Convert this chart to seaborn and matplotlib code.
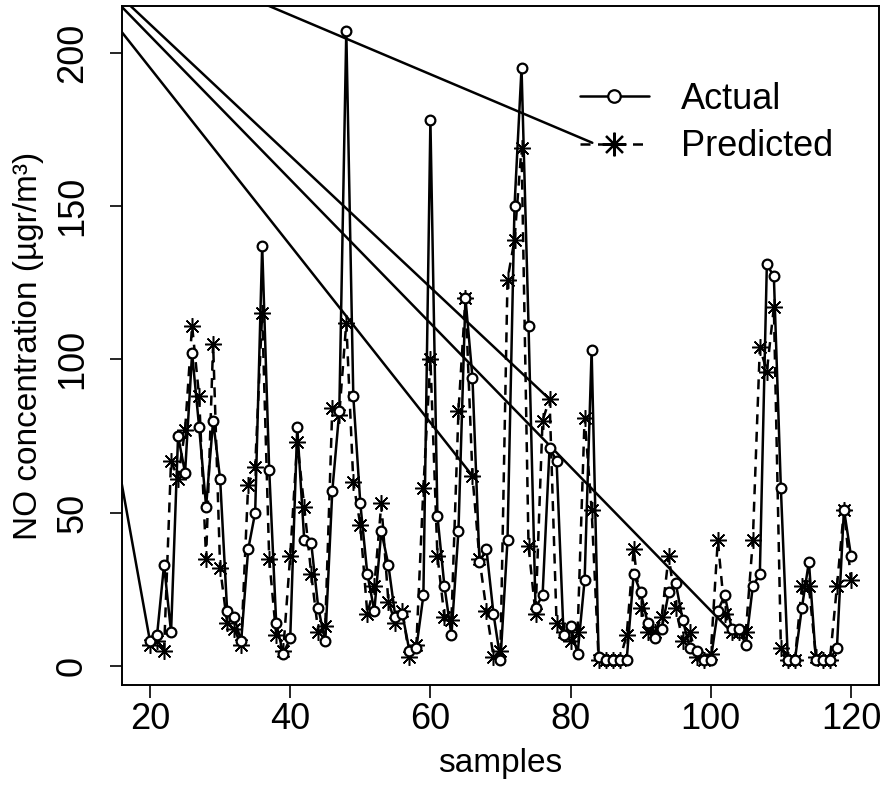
import matplotlib
matplotlib.use("Agg")
import matplotlib.pyplot as plt
from matplotlib.lines import Line2D
import pandas as pd
import seaborn as sns

# sample numbers shown on the x axis
samples = list(range(20, 121))

# measured NO (circles, solid line), samples 20..120
actual = [8, 10, 33, 11, 75, 63, 102, 78, 52, 80,
          61, 18, 16, 8, 38, 50, 137, 64, 14, 4,
          9, 78, 41, 40, 19, 8, 57, 83, 207, 88,
          53, 30, 18, 44, 33, 16, 17, 5, 6, 23,
          178, 49, 26, 10, 44, 120, 94, 34, 38, 17,
          2, 41, 150, 195, 111, 19, 23, 71, 67, 10,
          13, 4, 28, 103, 3, 2, 2, 2, 2, 30,
          24, 14, 9, 12, 24, 27, 15, 6, 5, 2,
          2, 18, 23, 12, 12, 7, 26, 30, 131, 127,
          58, 2, 2, 19, 34, 2, 2, 2, 6, 51,
          36]

# model output (asterisks, dashed line), samples 20..120
predicted = [7, 8, 5, 67, 61, 77, 111, 88, 35, 105,
             32, 14, 12, 7, 59, 65, 115, 35, 10, 5,
             36, 73, 52, 30, 11, 13, 84, 82, 112, 60,
             46, 17, 26, 53, 21, 14, 18, 3, 7, 58,
             100, 36, 16, 15, 83, 120, 62, 35, 18, 3,
             5, 126, 139, 169, 39, 17, 80, 87, 14, 11,
             8, 11, 81, 51, 2, 2, 2, 2, 10, 38,
             19, 11, 11, 16, 36, 19, 8, 11, 3, 2,
             4, 41, 17, 11, 11, 11, 41, 104, 96, 117,
             6, 2, 2, 26, 26, 3, 2, 2, 26, 51,
             28]

# stray straight lines: all start from sample 1 (off the axis) and end at these points
jump_start_x = 1
jump_start_y = 250
jump_end_x = [20, 66, 77, 103, 83.1]
jump_end_y = [8, 62, 87, 11, 170.6]

xticks = [20, 40, 60, 80, 100, 120]
yticks = [0, 50, 100, 150, 200]

sns.set_style("ticks")
plt.rcParams['font.family'] = ['Liberation Sans', 'DejaVu Sans']
plt.rcParams['text.color'] = 'black'
plt.rcParams['axes.labelcolor'] = 'black'
plt.rcParams['xtick.color'] = 'black'
plt.rcParams['ytick.color'] = 'black'

df = pd.DataFrame({"sample": samples, "actual": actual, "predicted": predicted})

rows = []
for i, (ex, ey) in enumerate(zip(jump_end_x, jump_end_y)):
    rows.append({"seg": i, "sample": jump_start_x, "no": jump_start_y})
    rows.append({"seg": i, "sample": ex, "no": ey})
jumps = pd.DataFrame(rows)

fig = plt.figure(figsize=(8.91, 7.98), dpi=100)
ax = fig.add_axes([0.13692, 0.14160, 0.84961, 0.85088])

lw = 1.8
sns.lineplot(data=jumps, x="sample", y="no", units="seg", estimator=None, sort=False,
             color="black", lw=lw, ax=ax)
sns.lineplot(data=df, x="sample", y="predicted", sort=False, color="black", lw=lw,
             linestyle=(0, (4, 3)), marker=(8, 2, 0), markersize=12,
             markeredgewidth=1.1, markeredgecolor="black", ax=ax)
sns.lineplot(data=df, x="sample", y="actual", sort=False, color="black", lw=lw,
             marker="o", markersize=7, markerfacecolor="white",
             markeredgecolor="black", markeredgewidth=1.6, ax=ax)

ax.set_xlim(16, 124)
ax.set_ylim(-6.2, 215.2)
ax.set_xticks(xticks)
ax.set_yticks(yticks)
ax.tick_params(axis="both", labelsize=26, length=9, width=1.2, direction="out",
               color="black", labelcolor="black")
ax.tick_params(axis="x", pad=3)
ax.tick_params(axis="y", pad=14)
plt.setp(ax.get_yticklabels(), rotation=90, va="center")
for sp in ax.spines.values():
    sp.set_visible(True)
    sp.set_linewidth(1.4)
    sp.set_color("black")

ax.set_xlabel("samples", fontsize=24, labelpad=8, color="black")
ax.set_ylabel("NO concentration (\u00b5gr/m\u00b3)", fontsize=24, labelpad=8, color="black")

handles = [
    Line2D([], [], color="black", lw=lw, marker="o", markersize=9,
           markerfacecolor="white", markeredgewidth=1.6),
    Line2D([], [], color="black", lw=lw, linestyle=(0, (4, 3)), marker=(8, 2, 0),
           markersize=17, markeredgewidth=1.6),
]
leg = ax.legend(handles, ["Actual", "Predicted"], loc="center left",
                bbox_to_anchor=(580 / 891, 1 - 123 / 798), bbox_transform=fig.transFigure,
                frameon=False, fontsize=26, handlelength=1.9, handletextpad=0.9,
                borderpad=0, borderaxespad=0, labelspacing=0.35)
for t in leg.get_texts():
    t.set_color("black")

fig.savefig("out.png", dpi=100)
